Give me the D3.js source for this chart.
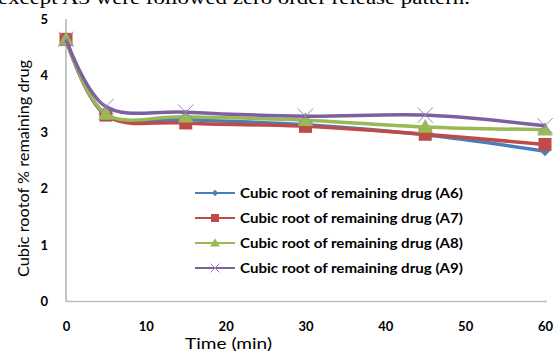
<!DOCTYPE html>
<html>
<head>
<meta charset="utf-8">
<script src="https://cdn.jsdelivr.net/npm/d3@7"></script>
<style>
  html, body { margin: 0; padding: 0; background: #fff; }
  svg { display: block; }
</style>
</head>
<body>
<svg id="chart" width="556" height="351"></svg>
<script>
// Sampling times (min)
const times = [0, 5, 15, 30, 45, 60];

// Cubic root of % remaining drug for each formulation
const seriesNames = [
  "Cubic root of remaining drug (A6)",
  "Cubic root of remaining drug (A7)",
  "Cubic root of remaining drug (A8)",
  "Cubic root of remaining drug (A9)"
];
const valuesA6 = [4.64, 3.30, 3.22, 3.13, 2.95, 2.66];
const valuesA7 = [4.64, 3.30, 3.16, 3.10, 2.96, 2.78];
const valuesA8 = [4.64, 3.32, 3.27, 3.21, 3.09, 3.04];
const valuesA9 = [4.64, 3.45, 3.35, 3.28, 3.30, 3.11];

const xTicks = [0, 10, 20, 30, 40, 50, 60];
const yTicks = [0, 1, 2, 3, 4, 5];

const colors = ["#4A7EBB", "#BE4B48", "#98B954", "#7D60A0"];
const markerTypes = ["diamond", "square", "triangle", "cross"];

const svg = d3.select("#chart");

// Running text of the page above the figure (only its lower part shows)
svg.append("text")
  .attr("x", -2).attr("y", 4)
  .attr("font-family", "Liberation Serif, serif")
  .attr("font-size", 19)
  .attr("fill", "#000")
  .attr("textLength", 472)
  .attr("lengthAdjust", "spacingAndGlyphs")
  .text("except A3 were followed zero order release pattern.");

const x = d3.scaleLinear().domain([0, 60]).range([66, 545]);
const y = d3.scaleLinear().domain([0, 5]).range([301.5, 19]);

const axisFont = "Lato, Calibri, sans-serif";

// Axes
const xAxis = svg.append("g")
  .attr("transform", `translate(0,${y(0)})`)
  .call(d3.axisBottom(x).tickValues(xTicks).tickSize(0).tickPadding(20).tickFormat(d3.format("d")));
xAxis.select(".domain").attr("stroke", "#BFBFBF").attr("stroke-width", 1.5)
  .attr("d", `M${x(0)},0H${x(60) + 2}`);
xAxis.selectAll("text").attr("font-family", axisFont).attr("font-weight", "bold")
  .attr("font-size", 13).attr("fill", "#000");

const yAxis = svg.append("g")
  .attr("transform", `translate(${x(0)},0)`)
  .call(d3.axisLeft(y).tickValues(yTicks).tickSize(0).tickPadding(18).tickFormat(d3.format("d")));
yAxis.select(".domain").attr("stroke", "#8C8C8C").attr("stroke-width", 1)
  .attr("d", `M0,${y(5)}V${y(0)}`);
yAxis.selectAll("text").attr("font-family", axisFont).attr("font-weight", "bold")
  .attr("font-size", 13).attr("fill", "#000");

// Axis titles
svg.append("text")
  .attr("x", 185).attr("y", 349)
  .attr("font-family", axisFont).attr("font-size", 16).attr("fill", "#000")
  .attr("textLength", 87).attr("lengthAdjust", "spacingAndGlyphs")
  .text("Time (min)");

svg.append("text")
  .attr("transform", "translate(29,277) rotate(-90)")
  .attr("font-family", axisFont).attr("font-size", 15).attr("fill", "#000")
  .attr("textLength", 217).attr("lengthAdjust", "spacingAndGlyphs")
  .text("Cubic rootof % remaining drug");

// Marker drawing helper
function drawMarker(g, type, cx, cy, color, size) {
  if (type === "diamond") {
    const s = size * 0.55;
    g.append("path")
      .attr("d", `M${cx},${cy - s}L${cx + s},${cy}L${cx},${cy + s}L${cx - s},${cy}Z`)
      .attr("fill", color);
  } else if (type === "square") {
    const s = size / 2;
    g.append("rect")
      .attr("x", cx - s).attr("y", cy - s).attr("width", size).attr("height", size)
      .attr("fill", color);
  } else if (type === "triangle") {
    const s = size * 0.6;
    g.append("path")
      .attr("d", `M${cx},${cy - s}L${cx + s},${cy + s * 0.75}L${cx - s},${cy + s * 0.75}Z`)
      .attr("fill", color);
  } else {
    const s = size * 0.55;
    g.append("path")
      .attr("d", `M${cx - s},${cy - s}L${cx + s},${cy + s}M${cx + s},${cy - s}L${cx - s},${cy + s}`)
      .attr("stroke", "#9A86C0").attr("stroke-width", 1).attr("fill", "none");
  }
}

const allSeries = [valuesA6, valuesA7, valuesA8, valuesA9];
const line = d3.line()
  .x((d, i) => x(times[i]))
  .y(d => y(d))
  .curve(d3.curveCardinal.tension(0));

const plot = svg.append("g");
const markerSizes = [9, 13, 13, 14];
allSeries.forEach((vals, k) => {
  const g = plot.append("g");
  g.append("path")
    .datum(vals)
    .attr("d", line)
    .attr("fill", "none")
    .attr("stroke", colors[k])
    .attr("stroke-width", 3.5)
    .attr("stroke-linejoin", "round");
  vals.forEach((v, i) => drawMarker(g, markerTypes[k], x(times[i]), y(v), colors[k], markerSizes[k]));
});

// Legend
const legend = svg.append("g");
const legendY = [193, 218, 243, 268];
seriesNames.forEach((name, k) => {
  const ly = legendY[k];
  legend.append("line")
    .attr("x1", 195).attr("x2", 235).attr("y1", ly).attr("y2", ly)
    .attr("stroke", colors[k]).attr("stroke-width", 2);
  drawMarker(legend, markerTypes[k], 215, ly, colors[k], k === 0 ? 6 : 8);
  legend.append("text")
    .attr("x", 240).attr("y", ly + 5)
    .attr("font-family", axisFont).attr("font-weight", "bold")
    .attr("font-size", 14).attr("fill", "#000")
    .attr("textLength", 223).attr("lengthAdjust", "spacingAndGlyphs")
    .text(name);
});
</script>
</body>
</html>
